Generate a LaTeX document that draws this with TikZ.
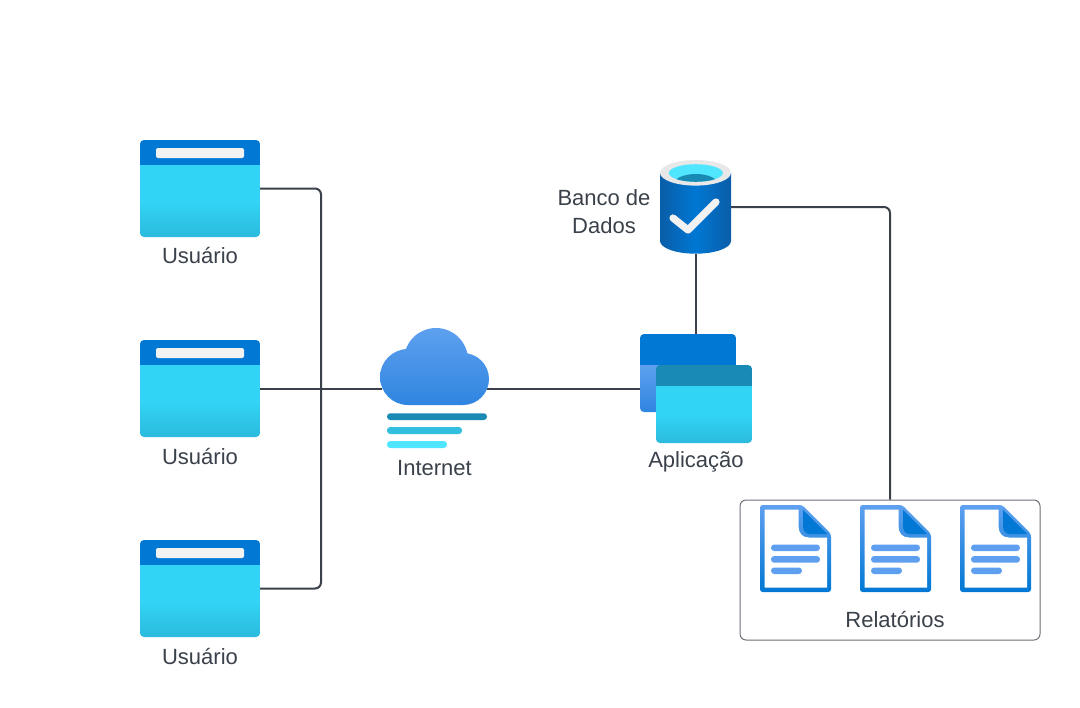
\documentclass[tikz,border=0pt]{standalone}
\usepackage{fontspec}
\setmainfont{Liberation Sans}
\definecolor{ink}{HTML}{3A414A}
\definecolor{azure}{HTML}{0078D4}
\definecolor{cyanA}{HTML}{32D4F5}
\definecolor{cyanB}{HTML}{2BBBDD}
\definecolor{teal}{HTML}{198AB3}
\definecolor{skyA}{HTML}{5EA0EF}
\definecolor{skyB}{HTML}{2F85E0}
\definecolor{paleC}{HTML}{50E6FF}
\definecolor{midC}{HTML}{32BEDD}
\definecolor{greyL}{HTML}{E8E8E8}
\definecolor{dbEdge}{HTML}{0A5DA8}
\definecolor{boxEdge}{HTML}{6B7078}
\tikzset{
  anchorbox/.style={inner sep=0pt,outer sep=0pt,draw=none,fill=none},
  conn/.style={draw=ink,line width=1.5pt,rounded corners=4.5pt},
  lbl/.style={text=ink,font=\fontsize{16.5pt}{21pt}\selectfont,inner sep=0pt,align=center},
  cyanbody/.style={top color=cyanA,bottom color=cyanB,middle color=cyanA},
  skybody/.style={top color=skyA,bottom color=skyB},
  bar/.style={rounded corners=2.4pt},
  docline/.style={fill=skyA,rounded corners=2.4pt}
}
% x, y, w, h, header height, header colour, body style
\newcommand{\winicon}[7]{%
  \begin{scope}
    \path[clip,rounded corners=3pt] (#1,#2) rectangle ++(#3,#4);
    \fill[#6] (#1,#2) rectangle ++(#3,#5);
    \shade[#7] (#1,#2+#5) rectangle (#1+#3,#2+#4);
  \end{scope}}
\newcommand{\docicon}[1]{%
  \begin{scope}[shift={(#1,0)}]
    \shade[top color=skyA,bottom color=azure,rounded corners=2pt]
      (760,505) -- (802,505) -- (831,534) -- (831,592) -- (760,592) -- cycle;
    \fill[white] (764.5,509.5) -- (798.5,509.5) -- (798.5,526)
      .. controls (798.5,533) and (802,537.5) .. (809,537.5)
      -- (827,537.5) -- (827,587.5) -- (764.5,587.5) -- cycle;
    \fill[azure] (803,510) -- (827,534) -- (810,534)
      .. controls (805.5,534) and (803,531) .. (803,526) -- cycle;
    \fill[docline] (771,544.5) rectangle (820,551);
    \fill[docline] (771,556) rectangle (820,562.7);
    \fill[docline] (771,567.5) rectangle (802,574);
  \end{scope}}
\begin{document}
\begin{tikzpicture}[x=0.75pt,y=-0.75pt]
\useasboundingbox (0,0) rectangle (1080,707);
% anchor boxes
\node[anchorbox,minimum width=90pt,minimum height=72.75pt] (u1) at (200,188.5) {};
\node[anchorbox,minimum width=90pt,minimum height=72.75pt] (u2) at (200,389) {};
\node[anchorbox,minimum width=90pt,minimum height=72.75pt] (u3) at (200,588.5) {};
\node[anchorbox,minimum width=79pt,minimum height=24.75pt] (cloud) at (434.5,389) {};
\node[anchorbox,minimum width=84pt,minimum height=81.75pt] (app) at (696,389) {};
\node[anchorbox,minimum width=52.5pt,minimum height=70.5pt] (db) at (696,207) {};
\node[draw=boxEdge,line width=0.75pt,rounded corners=4.5pt,fill=white,inner sep=0pt,minimum width=225pt,minimum height=105pt] (rep) at (890,570) {};
\coordinate (bus) at (321,389);
% connectors
\draw[conn] (u1.east) -| (bus);
\draw[conn] (u3.east) -| (bus);
\draw[conn] (u2.east) -- (cloud.west);
\draw[conn] (cloud.east) -- (app.west);
\draw[conn] (db.south) -- (app.north);
\draw[conn] (db.east) -| (rep.north);
% user windows
\foreach \yy in {140,340,540}{
  \winicon{140}{\yy}{120}{97}{25}{azure}{cyanbody}
  \fill[rounded corners=1.5pt,fill=black!5] (156,\yy+8) rectangle (244,\yy+18);
}
% cloud
\begin{scope}
  \path[clip] (408,377) circle[radius=28] (436,360) circle[radius=32]
     (463,379) circle[radius=26] (408,405) rectangle (463,360);
  \shade[top color=skyA,bottom color=skyB] (375,328) rectangle (495,405);
\end{scope}
\fill[teal,bar] (387,413.3) rectangle (487,420);
\fill[midC,bar] (387,427) rectangle (462,434);
\fill[paleC,bar] (387,441) rectangle (447,448);
% application
\winicon{640}{334}{96}{78}{31}{azure}{skybody}
\winicon{656}{365}{96}{78}{21}{teal}{cyanbody}
% database
\shade[left color=dbEdge,right color=dbEdge,middle color=azure]
  (660,173) -- (731,173) -- (731,241) arc[start angle=0,end angle=180,x radius=35.5,y radius=12.7] -- cycle;
\fill[greyL] (695.5,172.8) ellipse[x radius=35.5,y radius=12.8];
\fill[paleC] (695.8,173) ellipse[x radius=27,y radius=8.8];
\begin{scope}
  \clip (695.8,173) ellipse[x radius=27,y radius=8.8];
  \fill[teal] (695.8,184) ellipse[x radius=22,y radius=10];
\end{scope}
\draw[black!5,line width=5.4pt,line cap=round,line join=round] (673,218) -- (688,230) -- (716,202);
% reports
\docicon{0}
\docicon{100}
\docicon{200}
% labels
\node[lbl] (t1) at (200,256) {Usuário};
\node[lbl] (t2) at (200,456) {Usuário};
\node[lbl] (t3) at (200,656) {Usuário};
\node[lbl] (t4) at (434.5,468) {Internet};
\node[lbl] (t5) at (696,462) {Aplicação};
\node[lbl] (t6) at (604,212) {Banco de\\Dados};
\node[lbl] (t7) at (895,619) {Relatórios};
\end{tikzpicture}
\end{document}
